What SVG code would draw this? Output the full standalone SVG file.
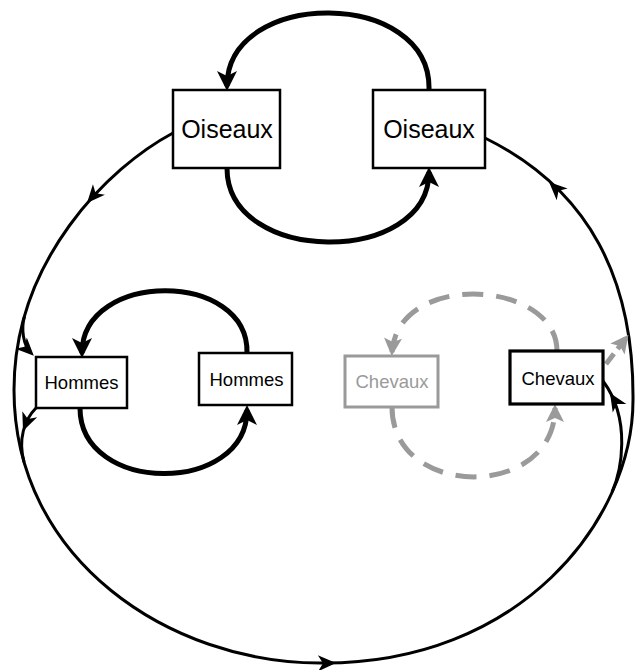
<svg xmlns="http://www.w3.org/2000/svg" xmlns:xlink="http://www.w3.org/1999/xlink" width="635" height="670" viewBox="0 0 635 670">
<style>
.box{fill:#fff;stroke:#000;stroke-width:2.5}
.boxb{fill:#fff;stroke:#000;stroke-width:3.2}
.boxg{fill:#fff;stroke:#9a9a9a;stroke-width:3}
.lbl{font-family:"Liberation Sans",Arial,sans-serif;fill:#000;text-anchor:middle}
.big{font-size:25px}
.sm{font-size:18.5px}
.gt{fill:#9a9a9a}
.thin{fill:none;stroke:#000;stroke-width:3}
.thick{fill:none;stroke:#000;stroke-width:5}
.dash{fill:none;stroke:#9a9a9a;stroke-width:5;stroke-dasharray:21 13}
</style>
<defs>
<marker id="ahk" markerUnits="userSpaceOnUse" markerWidth="22" markerHeight="22" refX="15" refY="10" orient="auto">
<path d="M0,0 L20,10 L0,20 L5,10 Z" fill="#000"/>
</marker>
<marker id="ahg" markerUnits="userSpaceOnUse" markerWidth="20" markerHeight="20" refX="14" refY="9" orient="auto">
<path d="M0,0 L18,9 L0,18 L4,9 Z" fill="#9a9a9a"/>
</marker>
<marker id="aht" markerUnits="userSpaceOnUse" markerWidth="20" markerHeight="18" refX="14" refY="8" orient="auto">
<path d="M0,0 L18,8 L0,16 L5,8 Z" fill="#000"/>
</marker>
<path id="tri" d="M0,0 L-18,-8 L-13,0 L-18,8 Z" fill="#000"/>
</defs>
<g id="connectors">
<path class="thin" d="M173,133 C109,167 14,260 14,390 C14,560 170,663 320,663 C520,665 633,520 633,400 C634,280 590,190 485,138"/>
<use xlink:href="#tri" transform="translate(87,203) rotate(131.5)"/>
<use xlink:href="#tri" transform="translate(336,663) rotate(-1)"/>
<use xlink:href="#tri" transform="translate(549,182) rotate(-137)"/>
<path class="thin" d="M24.5,316.6 C21,328.6 23,345 31,353" marker-end="url(#aht)"/>
<path class="thin" d="M36,408 C24,420 18,440 24,462"/>
<use xlink:href="#tri" transform="translate(23,431) rotate(112)"/>
<path class="thin" d="M612,492 C621,472 632,420 603,381"/>
<use xlink:href="#tri" transform="translate(610,393) rotate(-122)"/>
<path class="thick" d="M429,90 C432,-12 227,-12 227,86" marker-end="url(#ahk)"/>
<path class="thick" d="M227,168 C227,266 429,266 429,172" marker-end="url(#ahk)"/>
<path class="thick" d="M247,353 C249,270 82,270 82,353" marker-end="url(#ahk)"/>
<path class="thick" d="M80,408 C80,495 247,495 247,410" marker-end="url(#ahk)"/>
<path class="dash" d="M557,351 C557,280 398,270 392,352" marker-end="url(#ahg)"/>
<path class="dash" d="M392,407 C392,500 555,500 555,408" marker-end="url(#ahg)"/>
<path class="dash" style="stroke-dasharray:13 6" d="M606,364 L626,338" marker-end="url(#ahg)"/>
</g>
<g id="oiseaux1">
<rect class="box" x="173" y="90" width="107" height="78"/>
<text class="lbl big" x="227" y="138">Oiseaux</text>
</g>
<g id="oiseaux2">
<rect class="box" x="373" y="90" width="112" height="78"/>
<text class="lbl big" x="429" y="138">Oiseaux</text>
</g>
<g id="hommes1">
<rect class="box" x="36" y="357" width="91" height="51"/>
<text class="lbl sm" x="81.5" y="389">Hommes</text>
</g>
<g id="hommes2">
<rect class="box" x="199" y="353" width="93" height="52"/>
<text class="lbl sm" x="246.5" y="386">Hommes</text>
</g>
<g id="chevaux1">
<rect class="boxg" x="345" y="356" width="93" height="51"/>
<text class="lbl sm gt" x="392" y="388">Chevaux</text>
</g>
<g id="chevaux2">
<rect class="boxb" x="510" y="351" width="93" height="53"/>
<text class="lbl sm" x="558" y="385">Chevaux</text>
</g>
</svg>
